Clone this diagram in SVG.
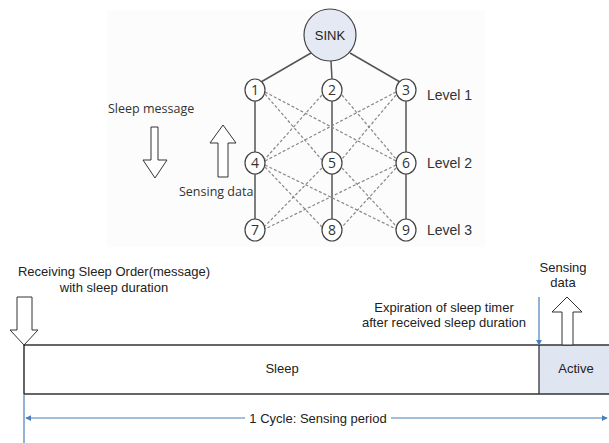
<svg xmlns="http://www.w3.org/2000/svg" width="609" height="443" viewBox="0 0 609 443">
<style>
.t{font-family:"Open Sans","DejaVu Sans",sans-serif;font-size:12.5px;fill:#333}
.n{font-family:"Open Sans","DejaVu Sans",sans-serif;font-size:14px;fill:#333}
.a{font-family:"Liberation Sans",Arial,sans-serif;font-size:13px;fill:#222}
.lv{font-family:"Liberation Sans",Arial,sans-serif;font-size:14px;fill:#333}
.node circle,.node ellipse{fill:#fff;stroke:#444;stroke-width:1.2}
.solid{stroke:#555;stroke-width:1.5;fill:none}
.dash{stroke:#888;stroke-width:1.2;stroke-dasharray:3,2;fill:none}
.hollow{fill:#fff;stroke:#333;stroke-width:1}
.blue{stroke:#4a7ebb;stroke-width:1.2;fill:none}
</style>
<defs>
<marker id="bh" viewBox="0 0 8 8" refX="7" refY="4" markerWidth="6" markerHeight="6" orient="auto-start-reverse" markerUnits="userSpaceOnUse">
<path d="M0,0 L8,4 L0,8 z" fill="#4a7ebb"/>
</marker>
</defs>
<rect x="107" y="10" width="378" height="237" fill="#fcfcfc"/>
<g id="connectors">
<line class="solid" x1="311" y1="53" x2="261" y2="82"/>
<line class="solid" x1="331" y1="61" x2="332" y2="79"/>
<line class="solid" x1="350" y1="53" x2="400" y2="82"/>
<line class="solid" x1="255" y1="101" x2="255" y2="152"/>
<line class="solid" x1="255" y1="174" x2="255" y2="219"/>
<line class="solid" x1="332" y1="101" x2="332" y2="152"/>
<line class="solid" x1="332" y1="174" x2="332" y2="219"/>
<line class="solid" x1="406" y1="101" x2="406" y2="152"/>
<line class="solid" x1="406" y1="174" x2="406" y2="219"/>
<line class="dash" x1="265" y1="94" x2="322" y2="160"/>
<line class="dash" x1="265" y1="92" x2="396" y2="161"/>
<line class="dash" x1="322" y1="95" x2="265" y2="159"/>
<line class="dash" x1="342" y1="95" x2="396" y2="159"/>
<line class="dash" x1="396" y1="92" x2="265" y2="161"/>
<line class="dash" x1="396" y1="95" x2="342" y2="159"/>
<line class="dash" x1="265" y1="167" x2="322" y2="227"/>
<line class="dash" x1="265" y1="165" x2="396" y2="229"/>
<line class="dash" x1="322" y1="168" x2="265" y2="226"/>
<line class="dash" x1="342" y1="168" x2="396" y2="226"/>
<line class="dash" x1="396" y1="165" x2="265" y2="229"/>
<line class="dash" x1="396" y1="168" x2="342" y2="227"/>
</g>
<g id="sink" class="node"><circle cx="330" cy="35" r="26" style="fill:#e4e9f3"/><text class="a" x="330" y="40" text-anchor="middle" font-size="14">SINK</text></g>
<g id="n1" class="node"><ellipse cx="255" cy="90" rx="10" ry="11"/><text class="n" x="255" y="95" text-anchor="middle">1</text></g>
<g id="n2" class="node"><ellipse cx="332" cy="90" rx="10" ry="11"/><text class="n" x="332" y="95" text-anchor="middle">2</text></g>
<g id="n3" class="node"><ellipse cx="406" cy="90" rx="10" ry="11"/><text class="n" x="406" y="95" text-anchor="middle">3</text></g>
<g id="n4" class="node"><ellipse cx="255" cy="163" rx="10" ry="11"/><text class="n" x="255" y="168" text-anchor="middle">4</text></g>
<g id="n5" class="node"><ellipse cx="332" cy="163" rx="10" ry="11"/><text class="n" x="332" y="168" text-anchor="middle">5</text></g>
<g id="n6" class="node"><ellipse cx="406" cy="163" rx="10" ry="11"/><text class="n" x="406" y="168" text-anchor="middle">6</text></g>
<g id="n7" class="node"><ellipse cx="255" cy="230" rx="10" ry="11"/><text class="n" x="255" y="235" text-anchor="middle">7</text></g>
<g id="n8" class="node"><ellipse cx="332" cy="230" rx="10" ry="11"/><text class="n" x="332" y="235" text-anchor="middle">8</text></g>
<g id="n9" class="node"><ellipse cx="406" cy="230" rx="10" ry="11"/><text class="n" x="406" y="235" text-anchor="middle">9</text></g>
<text class="lv" x="427" y="100">Level 1</text>
<text class="lv" x="427" y="168">Level 2</text>
<text class="lv" x="427" y="235">Level 3</text>
<text class="t" x="108" y="113" font-size="13">Sleep message</text>
<path class="hollow" d="M151,127 H158 V160 H167 L155,178 L143,160 H151 Z"/>
<path class="hollow" d="M218,177 V143 H210 L223,125 L236,143 H228 V177 Z"/>
<text class="t" x="179" y="196" font-size="13">Sensing data</text>
<text class="a" x="114" y="276" text-anchor="middle">Receiving Sleep Order(message)</text>
<text class="a" x="114" y="292" text-anchor="middle">with sleep duration</text>
<path class="hollow" d="M22,297 H32 V330 H38 L24,345 L10,330 H17 V297 Z"/>
<rect x="539" y="345" width="72" height="49" fill="#dfe6f1"/>
<line x1="24" y1="345" x2="609" y2="345" stroke="#333" stroke-width="1.3"/>
<line x1="24" y1="394" x2="609" y2="394" stroke="#333" stroke-width="1.3"/>
<line x1="24" y1="345" x2="24" y2="394" stroke="#111" stroke-width="1.3"/>
<line x1="539" y1="345" x2="539" y2="394" stroke="#333" stroke-width="1.3"/>
<text class="a" x="282" y="373" text-anchor="middle">Sleep</text>
<text class="a" x="576" y="373" text-anchor="middle">Active</text>
<line class="blue" x1="24" y1="394" x2="24" y2="443"/>
<line class="blue" x1="26" y1="418" x2="245" y2="418" marker-start="url(#bh)"/>
<line class="blue" x1="391" y1="418" x2="607" y2="418" marker-end="url(#bh)"/>
<text class="a" x="318" y="423" text-anchor="middle">1 Cycle: Sensing period</text>
<line class="blue" x1="539" y1="297" x2="539" y2="345" marker-end="url(#bh)"/>
<text class="a" x="444" y="312" text-anchor="middle">Expiration of sleep timer</text>
<text class="a" x="444" y="327" text-anchor="middle">after received sleep duration</text>
<text class="a" x="563" y="272" text-anchor="middle">Sensing</text>
<text class="a" x="563" y="287" text-anchor="middle">data</text>
<path class="hollow" d="M562,345 V312 H552 L567,297 L582,312 H573 V345 Z"/>
</svg>
